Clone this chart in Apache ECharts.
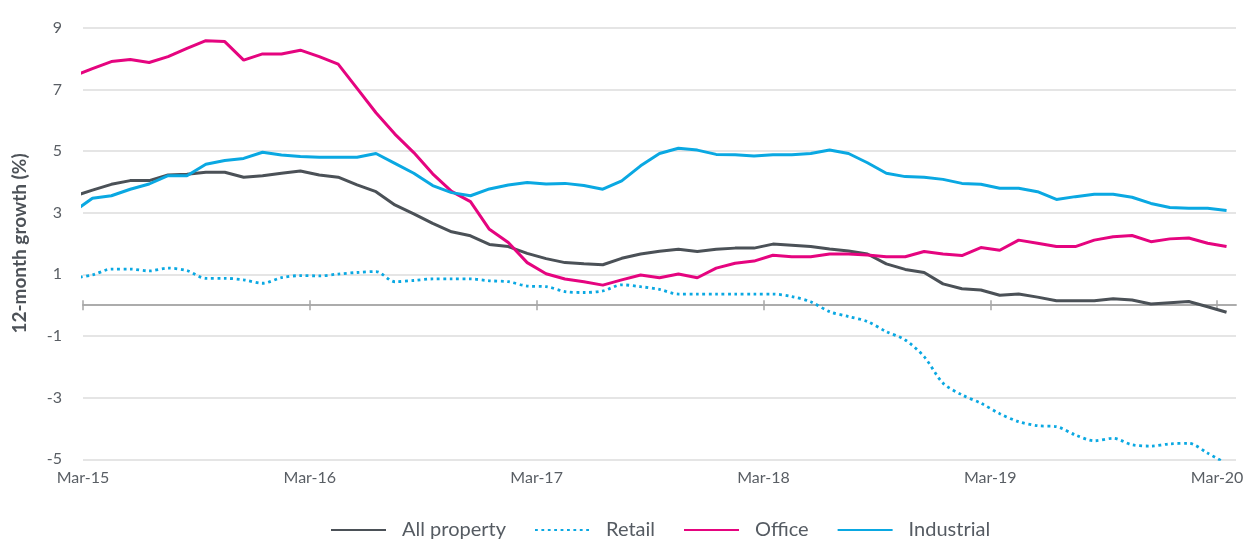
<!DOCTYPE html>
<html>
<head>
<meta charset="utf-8">
<title>12-month growth</title>
<script src="https://cdn.jsdelivr.net/npm/echarts@6.0.0/dist/echarts.min.js"></script>
<style>
  html, body { margin: 0; padding: 0; background: #fff; }
  #chart { width: 1254px; height: 539px; }
</style>
</head>
<body>
<div id="chart"></div>
<script>
// monthly points, Feb-15 .. Mar-20 (the Feb-15 point only shows as a clipped stub)
var months = [
  'Feb-15','Mar-15','Apr-15','May-15','Jun-15','Jul-15','Aug-15','Sep-15','Oct-15','Nov-15','Dec-15','Jan-16',
  'Feb-16','Mar-16','Apr-16','May-16','Jun-16','Jul-16','Aug-16','Sep-16','Oct-16','Nov-16','Dec-16','Jan-17',
  'Feb-17','Mar-17','Apr-17','May-17','Jun-17','Jul-17','Aug-17','Sep-17','Oct-17','Nov-17','Dec-17','Jan-18',
  'Feb-18','Mar-18','Apr-18','May-18','Jun-18','Jul-18','Aug-18','Sep-18','Oct-18','Nov-18','Dec-18','Jan-19',
  'Feb-19','Mar-19','Apr-19','May-19','Jun-19','Jul-19','Aug-19','Sep-19','Oct-19','Nov-19','Dec-19','Jan-20',
  'Feb-20','Mar-20'
];

var allProperty = [
  3.53, 3.73, 3.92, 4.04, 4.04, 4.22, 4.25, 4.31, 4.31, 4.15, 4.20, 4.28, 4.35,
  4.22, 4.15, 3.90, 3.68, 3.25, 2.96, 2.65, 2.38, 2.25, 1.97, 1.90, 1.68,
  1.51, 1.38, 1.34, 1.31, 1.52, 1.66, 1.75, 1.81, 1.74, 1.81, 1.85, 1.85,
  1.98, 1.94, 1.90, 1.82, 1.76, 1.66, 1.34, 1.16, 1.06, 0.69, 0.53, 0.49,
  0.32, 0.36, 0.26, 0.14, 0.14, 0.14, 0.21, 0.17, 0.04, 0.08, 0.12, -0.05,
  -0.23
];
var retail = [
  0.88, 0.98, 1.17, 1.17, 1.11, 1.20, 1.12, 0.87, 0.87, 0.82, 0.71, 0.89, 0.96,
  0.95, 1.01, 1.06, 1.09, 0.76, 0.80, 0.85, 0.85, 0.85, 0.79, 0.76, 0.62,
  0.60, 0.44, 0.41, 0.46, 0.66, 0.60, 0.51, 0.36, 0.36, 0.36, 0.36, 0.36,
  0.36, 0.28, 0.11, -0.21, -0.37, -0.53, -0.86, -1.13, -1.67, -2.53, -2.91, -3.18,
  -3.52, -3.78, -3.91, -3.94, -4.21, -4.40, -4.32, -4.53, -4.57, -4.50, -4.48, -4.80,
  -5.15
];
var office = [
  7.43, 7.67, 7.90, 7.97, 7.87, 8.06, 8.33, 8.58, 8.55, 7.95, 8.15, 8.15, 8.27,
  8.06, 7.82, 7.03, 6.24, 5.55, 4.95, 4.26, 3.69, 3.36, 2.46, 2.03, 1.38,
  1.02, 0.85, 0.76, 0.65, 0.82, 0.98, 0.89, 1.01, 0.89, 1.20, 1.36, 1.43,
  1.62, 1.57, 1.57, 1.66, 1.66, 1.63, 1.57, 1.57, 1.74, 1.66, 1.61, 1.87,
  1.78, 2.11, 2.01, 1.90, 1.90, 2.11, 2.22, 2.26, 2.06, 2.15, 2.18, 2.01,
  1.90
];
var industrial = [
  3.03, 3.47, 3.55, 3.76, 3.93, 4.20, 4.20, 4.57, 4.69, 4.76, 4.96, 4.87, 4.82,
  4.80, 4.80, 4.80, 4.92, 4.60, 4.28, 3.88, 3.65, 3.55, 3.77, 3.90, 3.98,
  3.93, 3.95, 3.88, 3.76, 4.03, 4.52, 4.92, 5.09, 5.03, 4.89, 4.88, 4.84,
  4.88, 4.88, 4.92, 5.03, 4.92, 4.62, 4.28, 4.17, 4.15, 4.08, 3.95, 3.92,
  3.79, 3.79, 3.68, 3.43, 3.52, 3.60, 3.60, 3.50, 3.30, 3.17, 3.14, 3.14,
  3.07
];

// x ticks sit at the start of each March, points at mid-month
var tickValues = [0, 12, 24, 36, 48, 60];
var tickLabels = ['Mar-15', 'Mar-16', 'Mar-17', 'Mar-18', 'Mar-19', 'Mar-20'];

var font = 'Lato';
var axisGrey = '#a6a6a6';
var labelGrey = '#595e64';

function toPoints(arr) {
  return arr.map(function (v, i) { return [i - 0.5, v]; });
}

var myChart = echarts.init(document.getElementById('chart'), null, { renderer: 'canvas' });

var option = {
  backgroundColor: '#fff',
  animation: false,
  textStyle: { fontFamily: font },
  grid: { left: 83, right: 18, top: 27.7, bottom: 79.7, containLabel: false, outerBoundsMode: 'none' },
  legend: {
    left: 325,
    top: 515,
    itemWidth: 55,
    itemHeight: 14,
    itemGap: 28,
    itemStyle: { color: 'rgba(0,0,0,0)', borderWidth: 0, opacity: 0 },
    textStyle: { fontFamily: font, fontSize: 20, color: '#555b62', padding: [0, 0, 0, 11] },
    data: ['All property', 'Retail', 'Office', 'Industrial']
  },
  xAxis: [{
    // zero line with downward ticks; labels stay at the bottom of the plot
    type: 'value',
    min: 0,
    max: 61,
    position: 'bottom',
    axisLine: { onZero: true, lineStyle: { color: axisGrey, width: 1.5 } },
    axisTick: { show: true, customValues: tickValues, length: 5, lineStyle: { color: axisGrey, width: 1.5 } },
    axisLabel: {
      customValues: tickValues,
      formatter: function (v) { return tickLabels[tickValues.indexOf(v)] || ''; },
      margin: 11,
      fontSize: 16,
      color: labelGrey
    },
    splitLine: { show: false }
  }, {
    // same zero line, upward ticks
    type: 'value',
    min: 0,
    max: 61,
    position: 'top',
    axisLine: { onZero: true, onZeroAxisIndex: 1, lineStyle: { color: axisGrey, width: 1.5 } },
    axisTick: { show: true, customValues: tickValues, length: 5, lineStyle: { color: axisGrey, width: 1.5 } },
    axisLabel: { show: false },
    splitLine: { show: false }
  }],
  yAxis: [{
    type: 'value',
    min: -5,
    max: 9,
    interval: 2,
    name: '12-month growth (%)',
    nameLocation: 'middle',
    nameGap: 54,
    nameTextStyle: { fontFamily: font, fontSize: 19, fontWeight: 'bold', color: '#4d5258' },
    axisLine: { show: false },
    axisTick: { show: false },
    axisLabel: { fontSize: 16, color: labelGrey, margin: 21 },
    splitLine: { lineStyle: { color: '#dcdcdc', width: 1.5 } }
  }, {
    type: 'value',
    min: -5,
    max: 9,
    interval: 2,
    position: 'right',
    axisLine: { show: false },
    axisTick: { show: false },
    axisLabel: { show: false },
    splitLine: { show: false }
  }],
  series: [{
    name: 'All property',
    type: 'line',
    showSymbol: false,
    symbol: 'none',
    lineStyle: { color: '#4b5157', width: 3 },
    itemStyle: { color: '#4b5157' },
    data: toPoints(allProperty)
  }, {
    name: 'Retail',
    type: 'line',
    showSymbol: false,
    symbol: 'none',
    smooth: 0.3,
    lineStyle: { color: '#0aa8e2', width: 2.8, type: [2.8, 3.6] },
    itemStyle: { color: '#0aa8e2' },
    data: toPoints(retail)
  }, {
    name: 'Office',
    type: 'line',
    showSymbol: false,
    symbol: 'none',
    lineStyle: { color: '#e5047f', width: 3 },
    itemStyle: { color: '#e5047f' },
    data: toPoints(office)
  }, {
    name: 'Industrial',
    type: 'line',
    showSymbol: false,
    symbol: 'none',
    lineStyle: { color: '#0aa8e2', width: 3 },
    itemStyle: { color: '#0aa8e2' },
    data: toPoints(industrial)
  }]
};

myChart.setOption(option);
</script>
</body>
</html>
